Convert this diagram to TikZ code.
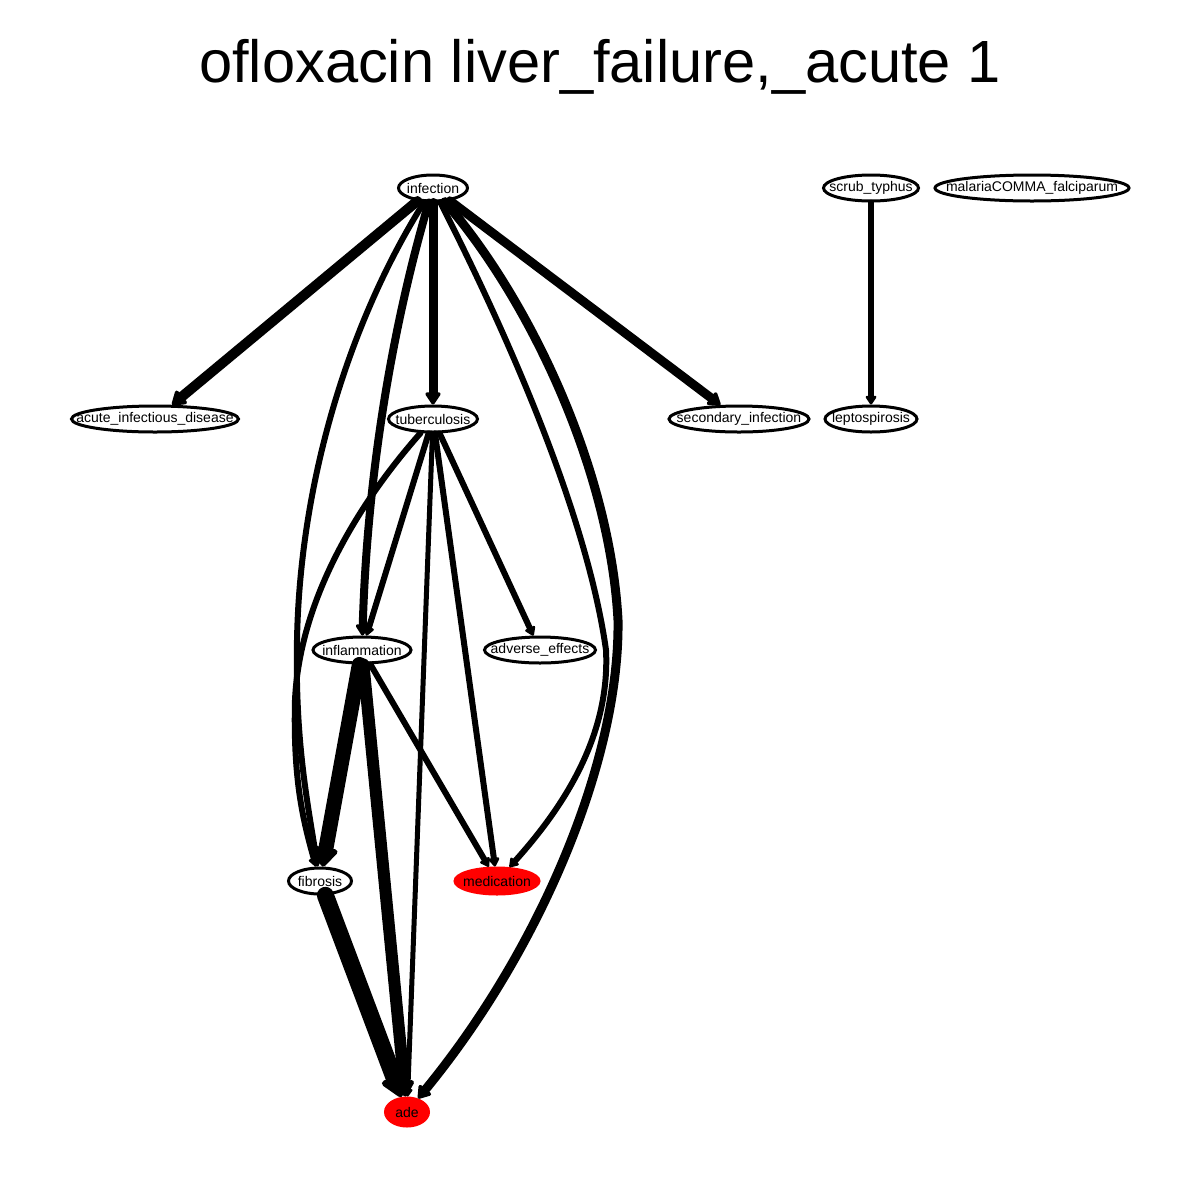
\documentclass[tikz,border=0pt]{standalone}
\usepackage{fontspec}
\setmainfont{Liberation Sans}
\usetikzlibrary{shapes, arrows.meta}

\newcommand{\nlabel}[1]{\makebox[0pt]{#1}}

\begin{document}
\begin{tikzpicture}[
          x=0.5pt, y=-0.5pt,
          vertex/.style={ellipse, draw, line width=1.5pt, inner sep=0pt,
            minimum height=13pt, minimum width=#1,
            font=\fontsize{7}{8}\selectfont},
          target/.style={vertex=#1, draw=red, fill=red},
          link/.style={line width=#1, line cap=round,
            -{Triangle[length=1pt 1.3, width=1pt 1.7, round]}}
        ]
        \useasboundingbox (0,0) rectangle (1200,1200);

        \node[anchor=base, font=\fontsize{29.8}{36}\selectfont] (title) at (600,82)
          {ofloxacin liver\_failure,\_acute 1};

        % nodes
        \node[vertex=34.5pt] (infection) at (433,188) {\nlabel{infection}};
        \node[vertex=47.5pt] (scrub) at (871,188) {\nlabel{scrub\_typhus}};
        \node[vertex=97pt] (malaria) at (1032,188) {\nlabel{malariaCOMMA\_falciparum}};
        \node[vertex=83.5pt] (acute) at (155,419) {\nlabel{acute\_infectious\_disease}};
        \node[vertex=44.5pt] (tuberculosis) at (433,419) {\nlabel{tuberculosis}};
        \node[vertex=70pt] (secondary) at (739,419) {\nlabel{secondary\_infection}};
        \node[vertex=46pt] (lepto) at (871,419) {\nlabel{leptospirosis}};
        \node[vertex=49pt] (inflammation) at (362,650) {\nlabel{inflammation}};
        \node[vertex=55.5pt] (adverse) at (540,650) {\nlabel{adverse\_effects}};
        \node[vertex=31.5pt] (fibrosis) at (320,881) {\nlabel{fibrosis}};
        \node[target=42pt] (medication) at (497,881) {\nlabel{medication}};
        \node[target=21.5pt, minimum height=14pt] (ade) at (407,1112) {\nlabel{ade}};

        % edges
        \draw[link=5pt] (infection) -- (acute);
        \draw[link=4.5pt] (infection) -- (tuberculosis);
        \draw[link=4.5pt] (infection) -- (secondary);
        \draw[link=4pt] (infection) .. controls (400,300) and (368,450) .. (inflammation);
        \draw[link=3pt] (infection) .. controls (350,320) and (300,480) .. (297,640)
          .. controls (295,740) and (307,800) .. (fibrosis);
        \draw[link=3pt] (infection) .. controls (490,300) and (585,500) .. (606,650)
          .. controls (610,730) and (570,800) .. (medication);
        \draw[link=4.5pt] (infection) .. controls (530,300) and (610,470) .. (618,620)
          .. controls (620,760) and (540,950) .. (ade);
        \draw[link=3pt] (tuberculosis) -- (inflammation);
        \draw[link=3pt] (tuberculosis) -- (adverse);
        \draw[link=3pt] (tuberculosis) -- (medication);
        \draw[link=2.5pt] (tuberculosis) -- (ade);
        \draw[link=3pt] (tuberculosis) .. controls (370,490) and (300,590) .. (295,700)
          .. controls (293,780) and (303,820) .. (fibrosis);
        \draw[link=7.5pt] (inflammation) -- (fibrosis);
        \draw[link=6pt] (inflammation) -- (ade);
        \draw[link=3pt] (inflammation) -- (medication);
        \draw[link=8.5pt] (fibrosis) -- (ade);
        \draw[link=3pt] (scrub) -- (lepto);

        \end{tikzpicture}
\end{document}
